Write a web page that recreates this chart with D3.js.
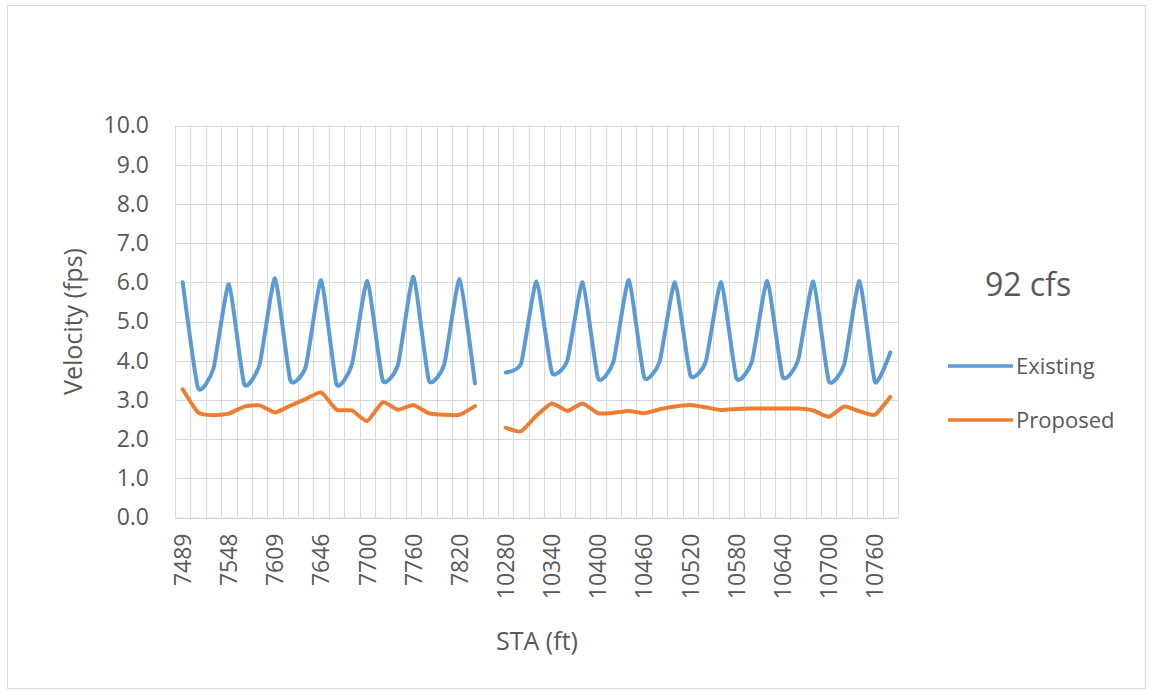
<!DOCTYPE html>
<html>
<head>
<meta charset="utf-8">
<script src="https://cdn.jsdelivr.net/npm/d3@7"></script>
<style>
  html, body { margin: 0; padding: 0; background: #ffffff; }
  svg { display: block; }
  text { font-family: "Open Sans", "Noto Sans", sans-serif; fill: #595959; }
</style>
</head>
<body>
<svg id="chart" width="1152" height="694"></svg>
<script>
// Station categories (ft); every third one is labelled on the axis
const categories = [
  "7489","7509","7528","7548","7568","7589","7609","7621","7634","7646",
  "7664","7682","7700","7720","7740","7760","7780","7800","7820","7840",
  "10260","10280","10300","10320","10340","10360","10380","10400","10420","10440",
  "10460","10480","10500","10520","10540","10560","10580","10600","10620","10640",
  "10660","10680","10700","10720","10740","10760","10780"
];
const labelledCategories = [
  "7489","7548","7609","7646","7700","7760","7820","10280","10340","10400",
  "10460","10520","10580","10640","10700","10760"
];
// Velocity (fps)
const existing = [
  6.0, 3.3, 3.8, 5.95, 3.4, 3.9, 6.1, 3.5, 3.85, 6.05,
  3.4, 3.9, 6.03, 3.5, 3.9, 6.14, 3.5, 3.9, 6.08, 3.42,
  null, 3.7, 3.93, 6.02, 3.7, 4.0, 6.0, 3.55, 3.97, 6.06,
  3.58, 3.97, 6.0, 3.63, 3.97, 6.0, 3.55, 3.97, 6.03, 3.59,
  4.0, 6.02, 3.48, 3.9, 6.03, 3.46, 4.21
];
const proposed = [
  3.27, 2.68, 2.61, 2.65, 2.83, 2.86, 2.68, 2.85, 3.02, 3.19,
  2.75, 2.73, 2.46, 2.94, 2.75, 2.87, 2.66, 2.62, 2.62, 2.84,
  null, 2.29, 2.2, 2.6, 2.91, 2.72, 2.91, 2.66, 2.67, 2.72,
  2.66, 2.76, 2.83, 2.87, 2.81, 2.74, 2.77, 2.78, 2.78, 2.78,
  2.78, 2.73, 2.57, 2.83, 2.71, 2.62, 3.08
];
const yTicks = [0,1,2,3,4,5,6,7,8,9,10];
const seriesNames = ["Existing", "Proposed"];
const seriesColors = ["#5B9BD5", "#ED7D31"];
const flowLabel = "92 cfs";

const svg = d3.select("#chart");

// outer chart border
svg.append("rect")
  .attr("x", 7.5).attr("y", 5.5).attr("width", 1138).attr("height", 683)
  .attr("fill", "#ffffff").attr("stroke", "#D9D9D9").attr("stroke-width", 1);

const plot = { left: 175, right: 898, top: 125.5, bottom: 517.5 };

const x = d3.scaleBand().domain(categories).range([plot.left, plot.right]).paddingInner(0).paddingOuter(0);
const y = d3.scaleLinear().domain([0, 10]).range([plot.bottom, plot.top]);
const cx = c => x(c) + x.bandwidth() / 2;

// horizontal gridlines
svg.append("g").selectAll("line").data(yTicks).join("line")
  .attr("x1", plot.left).attr("x2", plot.right)
  .attr("y1", d => Math.round(y(d)) + 0.5).attr("y2", d => Math.round(y(d)) + 0.5)
  .attr("stroke", "#D9D9D9").attr("stroke-width", 1);

// vertical gridlines at category boundaries
const bounds = categories.map(c => x(c)).concat([x(categories[categories.length - 1]) + x.bandwidth()]);
svg.append("g").selectAll("line").data(bounds).join("line")
  .attr("x1", d => Math.round(d) + 0.5).attr("x2", d => Math.round(d) + 0.5)
  .attr("y1", plot.top).attr("y2", plot.bottom)
  .attr("stroke", "#D9D9D9").attr("stroke-width", 1);

// y axis
const yAxis = svg.append("g")
  .attr("transform", `translate(${plot.left - 26},0)`)
  .call(d3.axisLeft(y).tickValues(yTicks).tickFormat(d3.format(".1f")).tickSize(0).tickPadding(0));
yAxis.select(".domain").remove();
yAxis.selectAll("text")
  .style("font-family", '"Open Sans", sans-serif')
  .style("font-size", "23px").attr("fill", "#595959");

// x axis
const xAxis = svg.append("g")
  .attr("transform", `translate(0,${plot.bottom})`)
  .call(d3.axisBottom(x).tickValues(labelledCategories).tickSize(0).tickPadding(0));
xAxis.select(".domain")
  .attr("stroke", "#D9D9D9");
xAxis.selectAll("text")
  .style("font-family", '"Open Sans", sans-serif')
  .style("font-size", "23px").attr("fill", "#595959")
  .attr("text-anchor", "end")
  .attr("transform", "translate(0,16) rotate(-90)")
  .attr("x", 0).attr("y", 0).attr("dy", "0.36em");

// smoothed lines
const series = [existing, proposed];
const line = d3.line()
  .defined(d => d.v != null)
  .x(d => cx(d.c))
  .y(d => y(d.v))
  .curve(d3.curveCardinal.tension(0.5));
series.forEach((vals, i) => {
  svg.append("path")
    .datum(vals.map((v, k) => ({ c: categories[k], v })))
    .attr("d", line)
    .attr("fill", "none")
    .attr("stroke", seriesColors[i])
    .attr("stroke-width", 4)
    .attr("stroke-linejoin", "round")
    .attr("stroke-linecap", "round");
});

// axis titles
svg.append("text")
  .attr("transform", `translate(82,${(plot.top + plot.bottom) / 2}) rotate(-90)`)
  .attr("text-anchor", "middle")
  .style("font-size", "25px")
  .text("Velocity (fps)");
svg.append("text")
  .attr("x", 537).attr("y", 650)
  .attr("text-anchor", "middle")
  .style("font-size", "25px")
  .text("STA (ft)");

// flow label
svg.append("text")
  .attr("x", 1028).attr("y", 296)
  .attr("text-anchor", "middle")
  .style("font-size", "32px")
  .text(flowLabel);

// legend
const legendY = [366, 420];
seriesNames.forEach((name, i) => {
  svg.append("line")
    .attr("x1", 948).attr("x2", 1013)
    .attr("y1", legendY[i]).attr("y2", legendY[i])
    .attr("stroke", seriesColors[i]).attr("stroke-width", 3.5);
  svg.append("text")
    .attr("x", 1016).attr("y", legendY[i])
    .attr("dy", "0.35em")
    .style("font-size", "22px")
    .text(name);
});
</script>
</body>
</html>
